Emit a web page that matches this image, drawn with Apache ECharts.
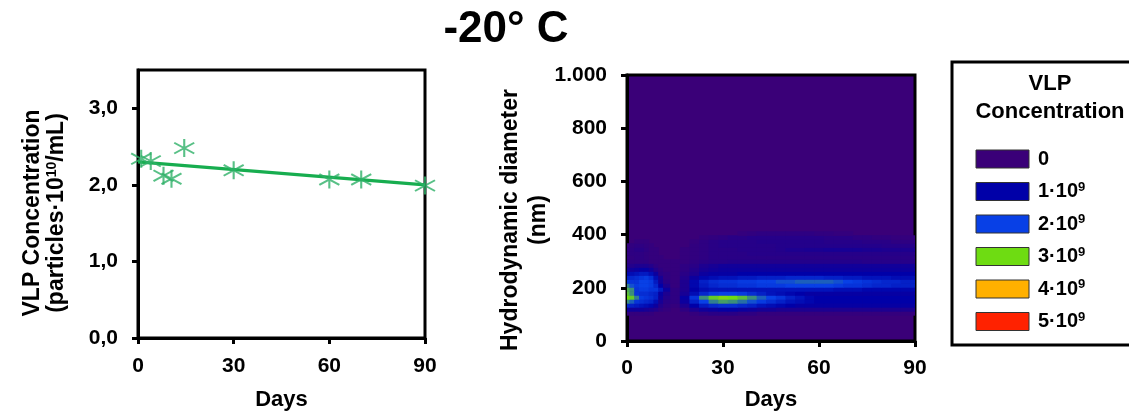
<!DOCTYPE html>
<html>
<head>
<meta charset="utf-8">
<script src="https://cdn.jsdelivr.net/npm/echarts@6/dist/echarts.min.js"></script>
<style>
  html, body { margin: 0; padding: 0; background: #ffffff; }
  #chart { width: 1129px; height: 416px; }
</style>
</head>
<body>
<div id="chart"></div>
<script>
// ---- VLP concentration over storage time (left panel) ----
const sampleDays = [1, 4, 8, 10.5, 14.5, 30, 60, 70, 90];
const vlpConc = [2.34, 2.31, 2.12, 2.08, 2.48, 2.19, 2.07, 2.07, 1.99];
const trendDays = [0, 90];
const trendConc = [2.30, 2.00];
const concTicks = [0, 1, 2, 3];
const dayTicks = [0, 30, 60, 90];

// ---- Size distribution map (right panel), concentration in 1e9 particles/mL ----
const mapDays = [0, 1.5, 3, 4.5, 6, 7.5, 9, 10.5, 12, 15, 18, 21, 24, 27, 30, 33, 36, 39, 42, 45,
                 48, 51, 54, 57, 60, 63, 66, 69, 72, 75, 78, 81, 84, 87, 90];
const diameters = [105, 120, 135, 150, 165, 180, 195, 210, 225, 240, 255, 270, 285, 300, 315, 330, 345, 360, 375, 390, 405];
const mapConc = [
  /*105*/ [0.1,0.1,0.1,0.1,0.1,0.1,0,0,0,0,0,0.1,0.2,0.3,0.3,0.3,0.2,0.2,0.1,0.1,0.1,0.1,0.1,0.1,0.1,0.1,0.1,0.1,0.1,0.1,0.1,0.1,0.1,0.1,0.1],
  /*120*/ [0.7,0.7,0.7,0.7,0.6,0.5,0.4,0.2,0.1,0,0.2,0.5,0.7,0.8,0.9,0.9,0.8,0.7,0.6,0.6,0.5,0.5,0.5,0.5,0.5,0.5,0.5,0.5,0.5,0.5,0.5,0.5,0.5,0.5,0.5],
  /*135*/ [1.6,1.5,1.4,1.3,1.2,1.1,0.8,0.4,0.2,0.1,0.5,1.0,1.4,1.6,1.7,1.7,1.6,1.5,1.3,1.2,1.1,1.0,0.9,0.9,0.9,0.9,0.9,0.9,0.9,0.9,0.9,0.9,0.9,0.9,0.9],
  /*150*/ [2.5,2.2,1.8,1.7,1.6,1.5,1.2,0.6,0.3,0.2,0.8,1.5,2.0,2.4,2.6,2.5,2.3,2.1,1.9,1.7,1.5,1.3,1.2,1.1,1.0,1.0,1.0,1.0,1.0,1.0,1.0,1.0,1.0,1.0,1.0],
  /*165*/ [3.0,2.9,2.4,1.9,1.8,1.7,1.5,0.8,0.4,0.2,0.9,1.8,2.5,2.9,3.1,3.0,2.8,2.5,2.2,2.0,1.8,1.5,1.3,1.1,1.0,1.0,1.0,1.0,1.0,1.0,1.0,1.0,1.0,1.0,1.0],
  /*180*/ [2.8,2.5,1.8,1.7,1.7,1.6,1.5,0.9,0.5,0.2,0.6,1.2,1.6,1.9,2.0,2.0,1.9,1.7,1.5,1.3,1.2,1.1,1.0,0.9,0.9,0.9,0.9,0.9,0.9,0.9,0.9,0.9,0.9,0.9,0.9],
  /*195*/ [2.7,2.5,1.8,1.9,1.9,1.8,1.8,1.4,0.8,0.2,0.5,1.0,1.2,1.3,1.3,1.3,1.3,1.3,1.3,1.3,1.3,1.3,1.3,1.3,1.3,1.3,1.2,1.2,1.2,1.1,1.1,1.1,1.1,1.1,1.1],
  /*210*/ [2.4,2.1,1.9,2.0,2.0,1.9,1.6,1.0,0.5,0.1,0.5,1.1,1.4,1.6,1.7,1.7,1.8,1.8,1.9,1.9,1.9,2.0,2.0,2.0,2.0,2.0,1.9,1.8,1.8,1.7,1.6,1.6,1.5,1.5,1.5],
  /*225*/ [1.8,1.8,1.8,2.0,2.0,1.9,1.4,0.7,0.3,0.1,0.5,1.1,1.5,1.7,1.8,1.8,1.9,1.9,2.0,2.0,2.1,2.1,2.2,2.2,2.2,2.2,2.1,2.0,1.9,1.8,1.7,1.6,1.6,1.5,1.5],
  /*240*/ [1.5,1.6,1.7,1.8,1.9,1.7,1.2,0.6,0.2,0.1,0.4,0.8,1.1,1.2,1.3,1.3,1.4,1.4,1.5,1.5,1.5,1.6,1.6,1.6,1.6,1.5,1.5,1.4,1.4,1.3,1.3,1.3,1.2,1.2,1.2],
  /*255*/ [1.1,1.2,1.3,1.4,1.4,1.2,0.8,0.3,0.2,0.1,0.3,0.5,0.8,0.9,0.9,0.9,1.0,1.0,1.0,1.0,1.0,1.0,1.0,1.0,1.0,1.0,1.0,1.0,1.0,1.0,1.0,1.0,1.0,1.0,1.0],
  /*270*/ [0.6,0.7,0.8,0.9,0.9,0.7,0.4,0.2,0.1,0.1,0.2,0.4,0.6,0.7,0.8,0.8,0.8,0.8,0.8,0.8,0.8,0.8,0.8,0.8,0.8,0.8,0.8,0.8,0.8,0.8,0.8,0.8,0.8,0.8,0.8],
  /*285*/ [0.4,0.4,0.5,0.5,0.5,0.4,0.2,0.1,0.1,0.1,0.2,0.3,0.5,0.6,0.7,0.7,0.7,0.7,0.7,0.7,0.7,0.7,0.7,0.7,0.7,0.7,0.7,0.7,0.7,0.7,0.7,0.7,0.7,0.7,0.7],
  /*300*/ [0.2,0.2,0.2,0.2,0.2,0.1,0.1,0.1,0.1,0.1,0.1,0.2,0.3,0.35,0.35,0.4,0.4,0.4,0.4,0.4,0.4,0.4,0.4,0.4,0.4,0.4,0.4,0.4,0.4,0.35,0.35,0.35,0.35,0.35,0.35],
  /*315*/ [0.15,0.15,0.2,0.2,0.15,0.1,0.1,0.1,0,0,0.1,0.15,0.2,0.3,0.3,0.3,0.3,0.3,0.3,0.3,0.3,0.3,0.3,0.3,0.3,0.3,0.3,0.3,0.3,0.3,0.3,0.3,0.3,0.3,0.3],
  /*330*/ [0.15,0.2,0.2,0.2,0.15,0.1,0.1,0,0,0,0.1,0.15,0.2,0.3,0.3,0.3,0.3,0.35,0.35,0.35,0.35,0.35,0.35,0.35,0.35,0.35,0.35,0.35,0.35,0.35,0.35,0.35,0.35,0.35,0.35],
  /*345*/ [0.15,0.2,0.3,0.3,0.2,0.1,0.1,0,0,0,0.1,0.15,0.2,0.3,0.3,0.3,0.35,0.35,0.35,0.35,0.4,0.5,0.5,0.55,0.55,0.6,0.6,0.6,0.6,0.55,0.55,0.5,0.5,0.5,0.5],
  /*360*/ [0.1,0.15,0.2,0.2,0.15,0.1,0,0,0,0,0,0.15,0.2,0.3,0.35,0.35,0.35,0.35,0.35,0.35,0.4,0.4,0.4,0.4,0.4,0.4,0.4,0.4,0.4,0.4,0.4,0.35,0.35,0.35,0.35],
  /*375*/ [0,0,0.1,0.1,0.1,0,0,0,0,0,0,0.1,0.2,0.3,0.35,0.35,0.35,0.35,0.4,0.4,0.4,0.4,0.4,0.4,0.4,0.35,0.35,0.35,0.35,0.3,0.3,0.3,0.2,0.2,0.2],
  /*390*/ [0,0,0,0,0,0,0,0,0,0,0,0,0.1,0.15,0.2,0.3,0.3,0.35,0.35,0.35,0.35,0.35,0.35,0.35,0.35,0.3,0.3,0.3,0.2,0.2,0.15,0.15,0.1,0.1,0.1],
  /*405*/ [0,0,0,0,0,0,0,0,0,0,0,0,0,0,0,0,0.1,0.15,0.2,0.2,0.2,0.2,0.2,0.2,0.15,0.15,0.1,0.1,0,0,0,0,0,0,0]
];
const diameterTicks = [0, 200, 400, 600, 800, 1000];

// ---- Colour scale and its key ----
const levelValues = [0, 1, 2, 3, 4, 5];
const levelColors = ['#3a0078', '#0000a8', '#0840e6', '#6edc12', '#ffb000', '#ff2200'];
const levelLabels = ['0', '1·10', '2·10', '3·10', '4·10', '5·10'];
const levelExponents = ['', '9', '9', '9', '9', '9'];

const FONT = '"Liberation Sans", Arial, Helvetica, sans-serif';

// Build cells: each value covers the span half-way to its neighbours
function edges(arr, lo, hi) {
  return arr.map((v, i) => [
    i === 0 ? lo : (arr[i - 1] + v) / 2,
    i === arr.length - 1 ? hi : (v + arr[i + 1]) / 2
  ]);
}
const dayEdges = edges(mapDays, 0, 90);
const diaEdges = edges(diameters, diameters[0] - 7.5, diameters[diameters.length - 1] + 7.5);
const cells = [];
mapConc.forEach((row, i) => {
  row.forEach((v, j) => {
    if (v > 0) {
      cells.push([mapDays[j], diameters[i], v, dayEdges[j][0], dayEdges[j][1], diaEdges[i][0], diaEdges[i][1]]);
    }
  });
});

const tickText = { color: '#000', fontFamily: FONT, fontWeight: 'bold', fontSize: 21 };
const nameText = { color: '#000', fontFamily: FONT, fontWeight: 'bold', fontSize: 22 };
const lineStyle = { color: '#000', width: 3 };

const chart = echarts.init(document.getElementById('chart'), null, { renderer: 'canvas' });

const legendX = 952, legendY = 62;
const legendItems = [];
levelLabels.forEach((lab, i) => {
  const cy = 159 + i * 32.5;
  legendItems.push({
    type: 'rect',
    shape: { x: 976, y: cy - 9, width: 53, height: 18 },
    style: { fill: levelColors[i], stroke: '#333', lineWidth: 1 }
  });
  legendItems.push({
    type: 'text',
    x: 1038, y: cy,
    style: {
      text: levelExponents[i] ? '{n|' + lab + '}{s|' + levelExponents[i] + '}' : '{n|' + lab + '}',
      verticalAlign: 'middle',
      rich: {
        n: { fontFamily: FONT, fontWeight: 'bold', fontSize: 20, fill: '#000', lineHeight: 22 },
        s: { fontFamily: FONT, fontWeight: 'bold', fontSize: 13, fill: '#000', lineHeight: 22, verticalAlign: 'top' }
      }
    }
  });
});

chart.setOption({
  animation: false,
  backgroundColor: '#ffffff',
  grid: [
    { left: 138, top: 70, width: 287, height: 268, show: true, borderColor: '#000', borderWidth: 3, backgroundColor: 'transparent' },
    { left: 627, top: 75, width: 288, height: 268, show: true, borderColor: '#000', borderWidth: 3, backgroundColor: levelColors[0] }
  ],
  xAxis: [
    {
      gridIndex: 0, type: 'value', min: 0, max: 90, interval: 30,
      name: 'Days', nameLocation: 'middle', nameGap: 51,
      nameTextStyle: Object.assign({}, nameText),
      axisLine: { show: true, lineStyle },
      axisTick: { show: true, length: 6, lineStyle, customValues: dayTicks },
      axisLabel: Object.assign({ margin: 18, customValues: dayTicks }, tickText),
      splitLine: { show: false }
    },
    {
      gridIndex: 1, type: 'value', min: 0, max: 90, interval: 30,
      name: 'Days', nameLocation: 'middle', nameGap: 48,
      nameTextStyle: Object.assign({}, nameText),
      axisLine: { show: true, lineStyle },
      axisTick: { show: true, length: 6, lineStyle, customValues: dayTicks },
      axisLabel: Object.assign({ margin: 17, customValues: dayTicks }, tickText),
      splitLine: { show: false }
    }
  ],
  yAxis: [
    {
      gridIndex: 0, type: 'value', min: 0, max: 3.5, interval: 1,
      name: '{t|VLP Concentration}\n{t|(particles·10}{s|10}{t|/mL)}',
      nameLocation: 'middle', nameGap: 69, nameRotate: 90,
      nameTextStyle: {
        padding: [0, 18, 0, 0],
        rich: {
          t: { fontFamily: FONT, fontWeight: 'bold', fontSize: 23, color: '#000', lineHeight: 24 },
          s: { fontFamily: FONT, fontWeight: 'bold', fontSize: 14, color: '#000', lineHeight: 24, verticalAlign: 'top' }
        }
      },
      axisLine: { show: true, lineStyle },
      axisTick: { show: true, length: 6, lineStyle, customValues: concTicks },
      axisLabel: Object.assign({
        margin: 20, customValues: concTicks,
        formatter: v => v.toFixed(1).replace('.', ',')
      }, tickText),
      splitLine: { show: false }
    },
    {
      gridIndex: 1, type: 'value', min: 0, max: 1000, interval: 200,
      name: '{t|Hydrodynamic diameter}\n{t|(nm)}',
      nameLocation: 'middle', nameGap: 70, nameRotate: 90,
      nameTextStyle: {
        padding: [0, 24, 0, 0],
        rich: {
          t: { fontFamily: FONT, fontWeight: 'bold', fontSize: 23, color: '#000', lineHeight: 28 }
        }
      },
      axisLine: { show: true, lineStyle },
      axisTick: { show: true, length: 6, lineStyle, customValues: diameterTicks },
      axisLabel: Object.assign({
        margin: 20, customValues: diameterTicks,
        formatter: v => v >= 1000 ? (v / 1000) + '.' + String(v % 1000).padStart(3, '0') : String(v)
      }, tickText),
      splitLine: { show: false }
    }
  ],
  visualMap: {
    show: false,
    type: 'continuous',
    seriesIndex: 2,
    dimension: 2,
    min: levelValues[0],
    max: levelValues[levelValues.length - 1],
    inRange: { color: levelColors }
  },
  series: [
    {
      type: 'line', xAxisIndex: 0, yAxisIndex: 0,
      data: trendDays.map((d, i) => [d, trendConc[i]]),
      showSymbol: false, symbol: 'none',
      lineStyle: { color: '#17ad4f', width: 3.2 },
      z: 3
    },
    {
      type: 'scatter', xAxisIndex: 0, yAxisIndex: 0,
      data: sampleDays.map((d, i) => [d, vlpConc[i]]),
      symbol: 'path://M10,0L10,20M0,4L20,16M0,16L20,4',
      symbolSize: [20, 18],
      itemStyle: { color: 'none', borderColor: '#2eb068', borderWidth: 2 },
      z: 4
    },
    {
      type: 'custom', xAxisIndex: 1, yAxisIndex: 1,
      clip: true,
      data: cells,
      dimensions: ['day', 'diameter', 'conc', 'x0', 'x1', 'y0', 'y1'],
      encode: { x: 0, y: 1 },
      renderItem: function (params, api) {
        const p0 = api.coord([api.value(3), api.value(6)]);
        const p1 = api.coord([api.value(4), api.value(5)]);
        return {
          type: 'rect',
          shape: { x: p0[0], y: p0[1], width: p1[0] - p0[0] + 0.6, height: p1[1] - p0[1] + 0.6 },
          style: { fill: api.visual('color') }
        };
      },
      z: 1
    }
  ],
  graphic: [
    {
      type: 'text', x: 506, y: 30,
      style: { text: '-20° C', fontFamily: FONT, fontWeight: 'bold', fontSize: 44, fill: '#000', align: 'center', verticalAlign: 'middle' }
    },
    {
      type: 'rect',
      shape: { x: legendX, y: legendY, width: 200, height: 283 },
      style: { fill: '#fff', stroke: '#000', lineWidth: 3 },
      z: 0
    },
    {
      type: 'text', x: 1050, y: 84,
      style: { text: 'VLP', fontFamily: FONT, fontWeight: 'bold', fontSize: 22, fill: '#000', align: 'center', verticalAlign: 'middle' }
    },
    {
      type: 'text', x: 1050, y: 112,
      style: { text: 'Concentration', fontFamily: FONT, fontWeight: 'bold', fontSize: 22, fill: '#000', align: 'center', verticalAlign: 'middle' }
    }
  ].concat(legendItems)
});
</script>
</body>
</html>
